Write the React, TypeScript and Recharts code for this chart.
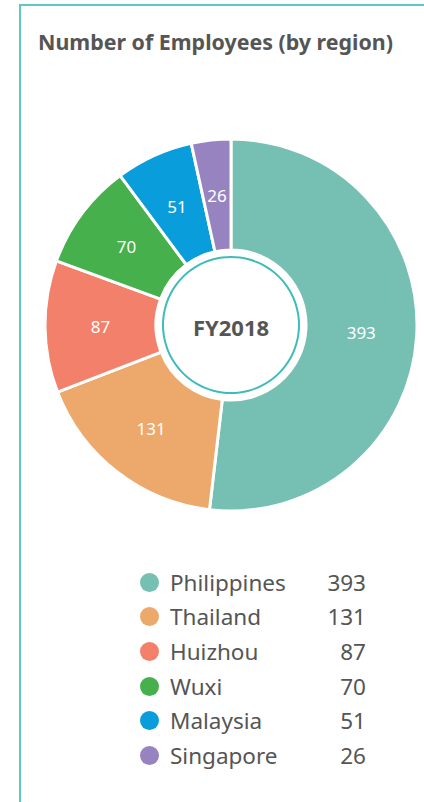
import React from 'react';
import { PieChart, Pie, Cell } from 'recharts';

const regions = ['Philippines', 'Thailand', 'Huizhou', 'Wuxi', 'Malaysia', 'Singapore'];
const employees = [393, 131, 87, 70, 51, 26];
const colors = ['#76bfb3', '#eda86b', '#f2806b', '#45b04c', '#0a9ddb', '#9783c0'];
const centerText = 'FY2018';

const data = regions.map((name, i) => ({ name, value: employees[i], color: colors[i] }));
const ringData = [{ name: 'ring', value: 1 }];

const RADIAN = Math.PI / 180;
const FONT = '"Noto Sans", sans-serif';

const renderSliceLabel = (props: any) => {
  const { cx, cy, midAngle, innerRadius, outerRadius, value } = props;
  const r = (innerRadius + outerRadius) / 2;
  const x = cx + r * Math.cos(-midAngle * RADIAN);
  const y = cy + r * Math.sin(-midAngle * RADIAN);
  return (
    <text x={x} y={y} fill="#ffffff" fontSize={17} fontFamily={FONT} textAnchor="middle" dominantBaseline="central">
      {value}
    </text>
  );
};

// center caption drawn at the ring's own centre
const renderCenter = (props: any) => (
  <text
    x={props.cx}
    y={props.cy + 2}
    fill="#555"
    fontSize={22}
    fontWeight={700}
    fontFamily={FONT}
    textAnchor="middle"
    dominantBaseline="central"
  >
    {centerText}
  </text>
);

export default function App() {
  return (
    <div style={{ position: 'relative', width: 424, height: 802, overflow: 'hidden', background: '#fff', fontFamily: FONT }}>
      <style>{`body{margin:0}`}</style>
      <div
        style={{
          position: 'absolute',
          left: 19,
          top: 4,
          width: 600,
          height: 1000,
          borderLeft: '2px solid #5ec8c6',
          borderTop: '2px solid #5ec8c6',
        }}
      />
      <div style={{ position: 'absolute', left: 38, top: 27, fontSize: 21.4, fontWeight: 700, color: '#555' }}>
        Number of Employees (by region)
      </div>
      <div style={{ position: 'absolute', left: 0, top: 0 }}>
        <PieChart width={424} height={540}>
          <Pie
            data={data}
            dataKey="value"
            nameKey="name"
            cx={226}
            cy={320}
            innerRadius={75}
            outerRadius={186}
            startAngle={90}
            endAngle={-270}
            stroke="#ffffff"
            strokeWidth={3}
            label={renderSliceLabel}
            labelLine={false}
            isAnimationActive={false}
          >
            {data.map((d) => (
              <Cell key={d.name} fill={d.color} />
            ))}
          </Pie>
          <Pie
            data={ringData}
            dataKey="value"
            cx={226}
            cy={320}
            innerRadius={67}
            outerRadius={69}
            fill="#3fbcba"
            stroke="none"
            label={renderCenter}
            labelLine={false}
            isAnimationActive={false}
          />
        </PieChart>
      </div>
      <div style={{ position: 'absolute', left: 140, top: 565 }}>
        {data.map((d) => (
          <div key={d.name} style={{ display: 'flex', alignItems: 'center', height: 34.6 }}>
            <span style={{ width: 19, height: 19, borderRadius: '50%', background: d.color, display: 'inline-block' }} />
            <span style={{ marginLeft: 11, width: 150, fontSize: 22.5, color: '#555' }}>{d.name}</span>
            <span style={{ width: 46, textAlign: 'right', fontSize: 22.5, color: '#555' }}>{d.value}</span>
          </div>
        ))}
      </div>
    </div>
  );
}
